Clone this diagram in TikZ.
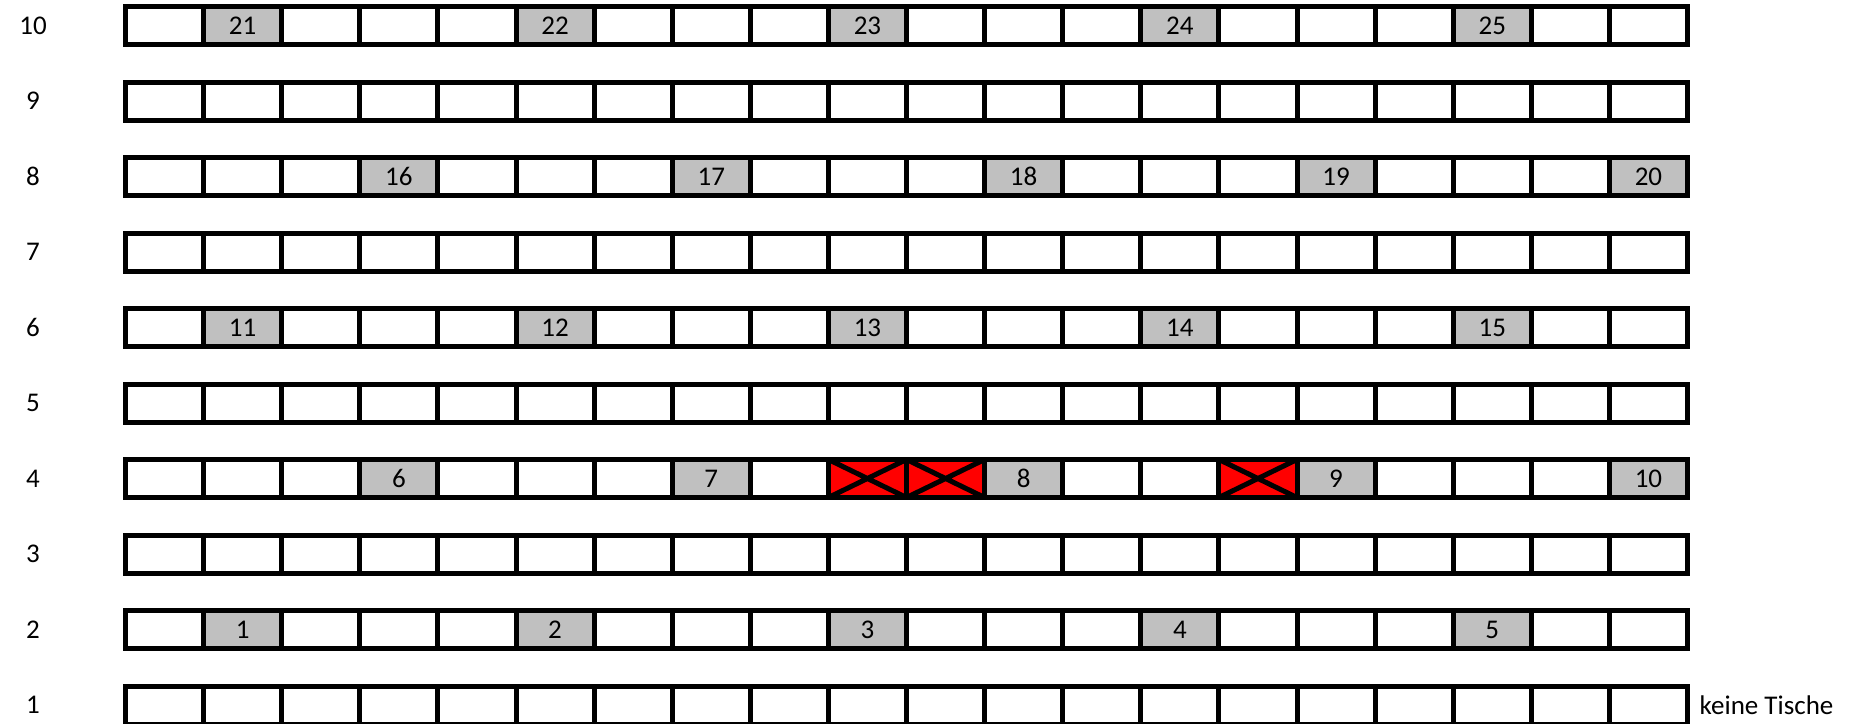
\documentclass[tikz,border=0pt]{standalone}
\usepackage{fontspec}
\setmainfont{Carlito}
\definecolor{cellgrey}{HTML}{C0C0C0}
\definecolor{cellred}{HTML}{FF0000}
\begin{document}
\begin{tikzpicture}[x=1pt,y=-1pt,
  cell/.style={draw=black, line width=5pt, fill=white, minimum width=78.1pt, minimum height=38pt, inner sep=0pt, outer sep=0pt, font=\fontsize{27}{30}\selectfont},
  greycell/.style={cell, fill=cellgrey},
  redcell/.style={cell, fill=cellred, path picture={\draw[line width=5pt] (path picture bounding box.north west) -- (path picture bounding box.south east) (path picture bounding box.south west) -- (path picture bounding box.north east);}},
  rowlabel/.style={inner sep=0pt, font=\fontsize{27}{30}\selectfont},
  note/.style={inner sep=0pt, anchor=west, font=\fontsize{27}{30}\selectfont}]
\useasboundingbox (0,0) rectangle (1857,723);
\foreach \r in {1,...,10}{
  \pgfmathsetmacro\yc{6.5+(10-\r)*75.5+19}
  \node[rowlabel] (l-\r) at (33,\yc) {\r};
  \foreach \c in {0,...,19}{
    \pgfmathsetmacro\xc{125.5+78.1*(\c+0.5)}
    \pgfmathtruncatemacro\off{mod(\r,4)==2 ? 1 : 3}
    \pgfmathtruncatemacro\isgrey{(mod(\r,2)==0) && (mod(\c,4)==\off)}
    \pgfmathtruncatemacro\isred{(\r==4) && ((\c==9) || (\c==10) || (\c==14))}
    \pgfmathtruncatemacro\lab{(\r-2)*5/2+(\c-\off)/4+1}
    \ifnum\isred=1
      \node[redcell] (c-\r-\c) at (\xc,\yc) {};
    \else\ifnum\isgrey=1
      \node[greycell] (c-\r-\c) at (\xc,\yc) {\lab};
    \else
      \node[cell] (c-\r-\c) at (\xc,\yc) {};
    \fi\fi
  }
}
\node[note] (kt) at ([xshift=12pt]c-1-19.east) {keine Tische};
\end{tikzpicture}
\end{document}
